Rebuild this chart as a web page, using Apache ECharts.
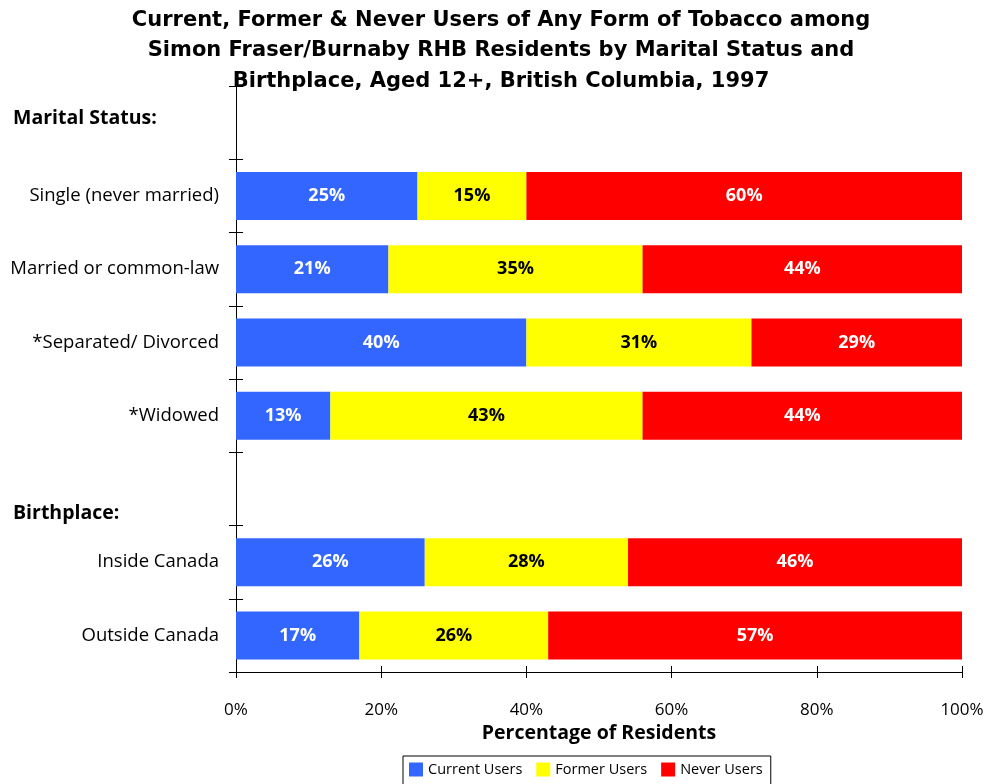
<!DOCTYPE html>
<html>
<head>
<meta charset="utf-8">
<script src="https://cdn.jsdelivr.net/npm/echarts@6/dist/echarts.min.js"></script>
<style>
  html, body { margin: 0; padding: 0; background: #fff; }
  #chart { width: 988px; height: 784px; }
</style>
</head>
<body>
<div id="chart"></div>
<script>
// header rows carry no bars
const categories = [
  'Marital Status:',
  'Single (never married)',
  'Married or common-law',
  '*Separated/ Divorced',
  '*Widowed',
  'Birthplace:',
  'Inside Canada',
  'Outside Canada'
];
const currentUsers = [null, 25, 21, 40, 13, null, 26, 17];
const formerUsers = [null, 15, 35, 31, 43, null, 28, 26];
const neverUsers = [null, 60, 44, 29, 44, null, 46, 57];

const FONT = 'Open Sans';
const TITLE_FONT = 'DejaVu Sans';

const chart = echarts.init(document.getElementById('chart'));

function barSeries(name, data, color, labelColor) {
  return {
    name: name,
    type: 'bar',
    stack: 'total',
    data: data,
    barWidth: 48,
    itemStyle: { color: color },
    label: {
      show: true,
      position: 'inside',
      formatter: p => p.value + '%',
      color: labelColor,
      fontFamily: FONT,
      fontWeight: 'bold',
      fontSize: 18
    }
  };
}

chart.setOption({
  animation: false,
  title: {
    text: 'Current, Former & Never Users of Any Form of Tobacco among\nSimon Fraser/Burnaby RHB Residents by Marital Status and\nBirthplace, Aged 12+, British Columbia, 1997',
    left: 496,
    top: 0,
    textAlign: 'center',
    textStyle: {
      fontFamily: TITLE_FONT,
      fontWeight: 'bold',
      fontSize: 21,
      lineHeight: 30.5,
      color: '#000'
    }
  },
  legend: {
    left: 403,
    top: 756,
    itemWidth: 14,
    itemHeight: 14,
    itemGap: 14,
    borderColor: '#000',
    borderWidth: 1,
    borderRadius: 0,
    padding: [6, 8, 10, 6],
    icon: 'rect',
    textStyle: { fontFamily: FONT, fontSize: 14.5, color: '#000' },
    data: ['Current Users', 'Former Users', 'Never Users']
  },
  grid: { left: 236, right: 26, top: 86, bottom: 112, containLabel: false },
  xAxis: [{
    type: 'value',
    min: 0,
    max: 100,
    interval: 20,
    name: 'Percentage of Residents',
    nameLocation: 'middle',
    nameGap: 43,
    nameTextStyle: { fontFamily: FONT, fontWeight: 'bold', fontSize: 19.5, color: '#000' },
    axisLine: { show: true, lineStyle: { color: '#000', width: 1 } },
    axisTick: { show: true, length: 6, lineStyle: { color: '#000' } },
    axisLabel: { formatter: '{value}%', margin: 30, fontFamily: FONT, fontSize: 17, color: '#000' },
    splitLine: { show: false }
  }, {
    // inside half of the crossing ticks
    type: 'value',
    position: 'bottom',
    min: 0,
    max: 100,
    interval: 20,
    axisLine: { show: false },
    axisTick: { show: true, inside: true, length: 6, lineStyle: { color: '#000' } },
    axisLabel: { show: false },
    splitLine: { show: false }
  }],
  yAxis: [{
    type: 'category',
    inverse: true,
    data: categories,
    axisLine: { show: true, lineStyle: { color: '#000', width: 1 } },
    axisTick: { show: true, length: 7, lineStyle: { color: '#000' } },
    axisLabel: {
      margin: 17,
      fontFamily: FONT,
      fontSize: 18.5,
      color: '#000',
      formatter: v => {
        if (v === 'Marital Status:') return '{headA|' + v + '}';
        if (v === 'Birthplace:') return '{headB|' + v + '}';
        return v;
      },
      rich: {
        headA: { fontFamily: FONT, fontWeight: 'bold', fontSize: 19.5, color: '#000', width: 206, align: 'left', padding: [0, 0, 8, 0] },
        headB: { fontFamily: FONT, fontWeight: 'bold', fontSize: 19.5, color: '#000', width: 206, align: 'left', padding: [50, 0, 0, 0] }
      }
    }
  }, {
    type: 'category',
    inverse: true,
    position: 'left',
    data: categories,
    axisLine: { show: false },
    axisTick: { show: true, inside: true, length: 7, lineStyle: { color: '#000' } },
    axisLabel: { show: false }
  }],
  series: [
    barSeries('Current Users', currentUsers, '#3366FF', '#fff'),
    barSeries('Former Users', formerUsers, '#FFFF00', '#000'),
    barSeries('Never Users', neverUsers, '#FF0000', '#fff')
  ]
});
</script>
</body>
</html>
